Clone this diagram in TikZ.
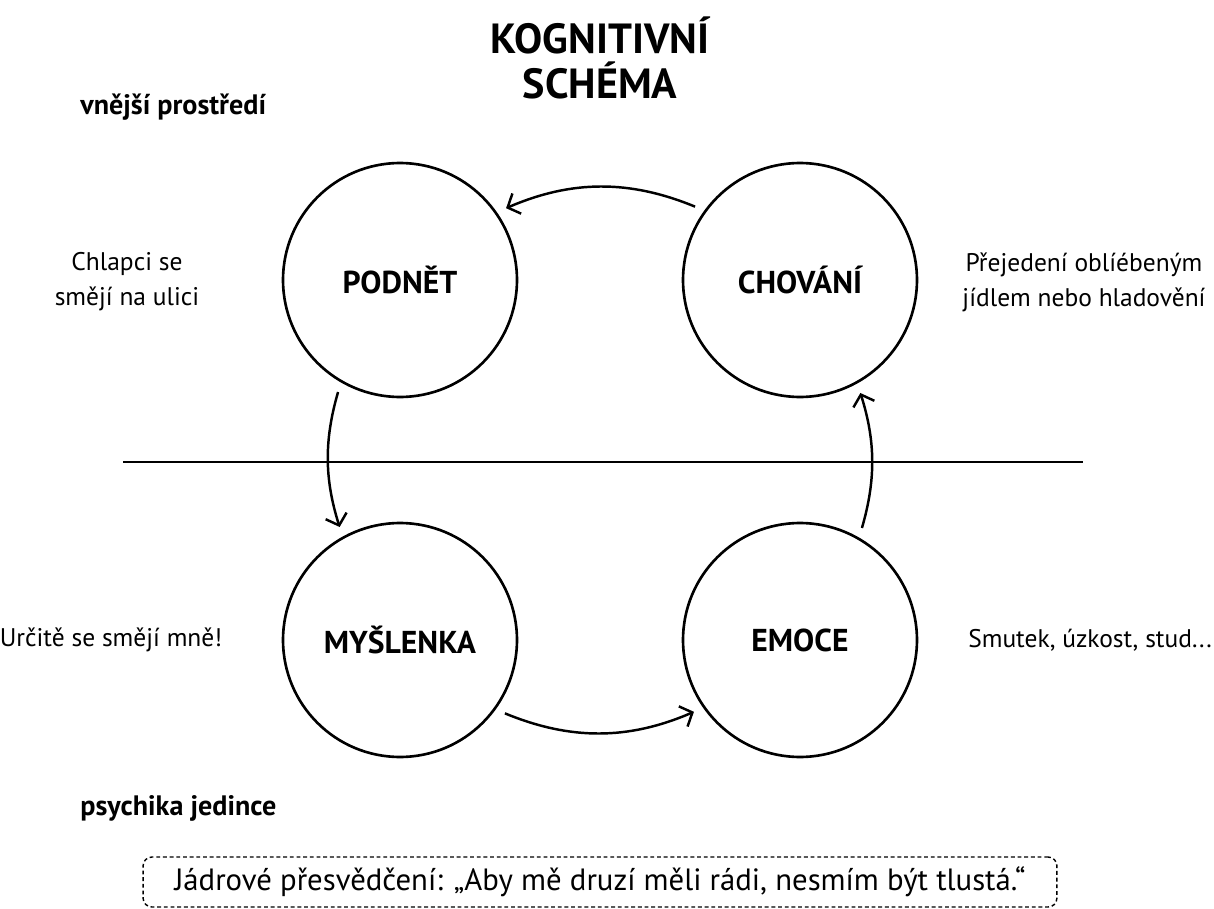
\documentclass[tikz,border=0pt]{standalone}
\usepackage{fontspec}
\setmainfont{PT Sans}
\usetikzlibrary{arrows.meta}

\begin{document}
\begin{tikzpicture}[
  x=0.02cm, y=-0.02cm,
  every node/.style={font=\fontsize{14.5}{20}\selectfont},
  stage/.style={
    circle, draw=black, line width=1.5pt,
    minimum size=4.68cm, inner sep=0pt,
    font=\fontsize{18}{22}\selectfont\bfseries},
  note/.style={align=center, font=\fontsize{14.5}{20}\selectfont},
  zone/.style={anchor=west, inner sep=0pt, font=\fontsize{16}{19}\selectfont\bfseries},
  heading/.style={align=center, font=\fontsize{24}{25.6}\selectfont\bfseries},
  divider/.style={draw=black, line width=1.5pt},
  arr/.style={
    -{Straight Barb[length=2mm,width=4.4mm]},
    line width=1.4pt, shorten <=0.2cm, shorten >=0.2cm},
  belief/.style={
    draw=black, line width=0.8pt, dash pattern=on 2.2pt off 1.6pt,
    rounded corners=5pt, minimum width=18.28cm, minimum height=1cm,
    font=\fontsize{17.5}{20}\selectfont},
]
\useasboundingbox (0,0) rectangle (1214,909);

\node[heading] (title) at (600,58) {KOGNITIVNÍ\\SCHÉMA};

\node[zone] (outer) at (80,107) {vnější prostředí};
\node[zone] (inner) at (80,808) {psychika jedince};

% the four stages
\node[stage] (podnet)   at (400,280) {PODNĚT};
\node[stage] (chovani)  at (800,280) {CHOVÁNÍ};
\node[stage] (myslenka) at (400,640) {MYŠLENKA};
\node[stage] (emoce)    at (800,640) {EMOCE};

\node[note] (podnetTxt)  at (127,282)  {Chlapci se\\smějí na ulici};
\node[note] (chovaniTxt) at (1084,282) {Přejedení oblíébeným\\jídlem nebo hladovění};
\node[note] (myslTxt)    at (111,640)  {Určitě se smějí mně!};
\node[note] (emoceTxt)   at (1090,640) {Smutek, úzkost, stud...};

\draw[divider] (123,462) -- (1083,462);

\draw[arr] (chovani.144.5)  to[bend right=22.9] (podnet.35.5);
\draw[arr] (podnet.240.6)   to[bend right=16.9] (myslenka.119.4);
\draw[arr] (myslenka.324.5) to[bend right=22.9] (emoce.215.5);
\draw[arr] (emoce.60.6)     to[bend right=16.9] (chovani.299.4);

\node[belief] (core) at (600,882)
  {Jádrové přesvědčení: „Aby mě druzí měli rádi, nesmím být tlustá.“};

\end{tikzpicture}
\end{document}
